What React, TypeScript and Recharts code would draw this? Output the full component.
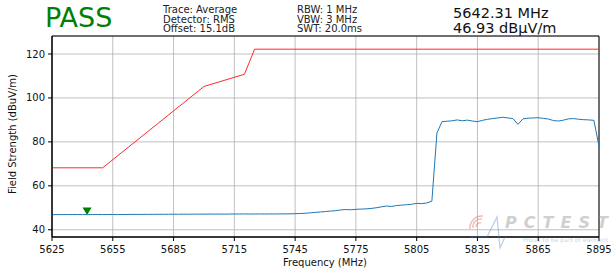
import React from 'react';
import {
  ComposedChart,
  Line,
  Scatter,
  XAxis,
  YAxis,
  CartesianGrid,
  ReferenceArea,
} from 'recharts';

// measured trace, one point every 2.5 MHz from 5625 MHz
const FREQ_START = 5625;
const FREQ_STEP = 2.5;
const TRACE_LEVEL = [
  46.85, 46.9, 46.88, 46.92, 46.9, 46.93, 46.9, 46.88, 46.92, 46.95,
  46.9, 46.93, 46.95, 46.9, 46.97, 46.95, 47.0, 46.98, 47.0, 47.02,
  47.0, 47.05, 47.03, 47.05, 47.08, 47.05, 47.1, 47.08, 47.1, 47.12,
  47.1, 47.15, 47.12, 47.15, 47.1, 47.15, 47.18, 47.15, 47.2, 47.15,
  47.18, 47.2, 47.15, 47.2, 47.18, 47.22, 47.2, 47.25, 47.3,
  47.4, 47.5, 47.7, 47.9, 48.1, 48.3, 48.5, 48.7, 49.0, 49.2,
  49.1, 49.3, 49.4, 49.5, 49.7, 50.0, 50.4, 50.8, 50.6, 51.0,
  51.2, 51.4, 51.6, 52.0, 51.9, 52.2, 53.0,
  84.0, 89.2, 89.4, 89.6, 90.0, 89.6, 89.9, 89.5, 89.2, 89.8,
  90.3, 90.6, 90.9, 91.2, 90.9, 90.6, 88.0, 90.5, 90.8, 90.9,
  91.0, 90.7, 90.4, 89.7, 89.5, 89.9, 90.5, 90.6, 90.3, 90.1,
  90.0, 89.8, 78.0,
];

// limit mask
const LIMIT_FREQ = [5625, 5650, 5700, 5720, 5725, 5895];
const LIMIT_LEVEL = [68.2, 68.2, 105.2, 110.8, 122.2, 122.2];

const MARKER_FREQ = [5642.31];
const MARKER_LEVEL = [46.93];

const X_TICKS = [5625, 5655, 5685, 5715, 5745, 5775, 5805, 5835, 5865, 5895];
const Y_TICKS = [40, 60, 80, 100, 120];
const X_DOMAIN = [5625, 5895];
const Y_DOMAIN = [36.7, 128.2];

const traceData = TRACE_LEVEL.map((level, i) => ({
  freq: FREQ_START + i * FREQ_STEP,
  level,
}));
const limitData = LIMIT_FREQ.map((freq, i) => ({ freq, level: LIMIT_LEVEL[i] }));
const markerData = MARKER_FREQ.map((freq, i) => ({ freq, level: MARKER_LEVEL[i] }));

const FONT = 'DejaVu Sans, Liberation Sans, sans-serif';

const MarkerShape = (props: any) => {
  const { cx, cy } = props;
  if (cx === undefined || cy === undefined) return null;
  const c = cy - 3.5;
  return (
    <path
      d={`M${cx - 4.5},${c - 3.5} L${cx + 4.5},${c - 3.5} L${cx},${c + 4} Z`}
      fill="#008000"
    />
  );
};

export default function App() {
  return (
    <div style={{ position: 'absolute', left: 0, top: 0, width: 611, height: 272, background: '#fff' }}>
      <ComposedChart
        width={611}
        height={272}
        margin={{ top: 36, right: 12, left: 0, bottom: 0 }}
        style={{ fontFamily: FONT }}
      >
        <CartesianGrid stroke="#b0b0b0" strokeWidth={0.8} />
        <XAxis
          dataKey="freq"
          type="number"
          domain={X_DOMAIN}
          ticks={X_TICKS}
          interval={0}
          allowDataOverflow
          height={35}
          stroke="#000"
          tickSize={4}
          tickMargin={5}
          tick={{ fontSize: 10, fill: '#111', fontFamily: FONT }}
        />
        <YAxis
          dataKey="level"
          type="number"
          domain={Y_DOMAIN}
          ticks={Y_TICKS}
          interval={0}
          allowDataOverflow
          width={52}
          stroke="#000"
          tickSize={4}
          tickMargin={3}
          tick={{ fontSize: 10, fill: '#111', fontFamily: FONT }}
        />
        <Line
          data={limitData}
          dataKey="level"
          stroke="#ff2a2a"
          strokeWidth={1}
          dot={false}
          isAnimationActive={false}
        />
        <Line
          data={traceData}
          dataKey="level"
          stroke="#1f77b4"
          strokeWidth={1}
          dot={false}
          isAnimationActive={false}
        />
        <Scatter
          data={markerData}
          dataKey="level"
          shape={<MarkerShape />}
          isAnimationActive={false}
        />
        <ReferenceArea
          x1={X_DOMAIN[0]}
          x2={X_DOMAIN[1]}
          y1={Y_DOMAIN[0]}
          y2={Y_DOMAIN[1]}
          fill="none"
          stroke="#000"
          strokeWidth={1}
        />
      </ComposedChart>
      <svg
        width={611}
        height={272}
        style={{ position: 'absolute', left: 0, top: 0, pointerEvents: 'none', fontFamily: FONT }}
      >
        <text x={45} y={27} fontSize={27} fill="#008000">PASS</text>
        <g fontSize={10} fill="#222">
          <text x={163} y={13}>Trace: Average</text>
          <text x={163} y={22.5}>Detector: RMS</text>
          <text x={163} y={32}>Offset: 15.1dB</text>
          <text x={297} y={13}>RBW: 1 MHz</text>
          <text x={297} y={22.5}>VBW: 3 MHz</text>
          <text x={297} y={32}>SWT: 20.0ms</text>
        </g>
        <g fontSize={14.5} fill="#111">
          <text x={453} y={17.5}>5642.31 MHz</text>
          <text x={453} y={32.5}>46.93 dBµV/m</text>
        </g>
        <text x={325} y={266} fontSize={10} fill="#111" textAnchor="middle">Frequency (MHz)</text>
        <text
          x={16}
          y={134}
          fontSize={10}
          fill="#111"
          textAnchor="middle"
          transform="rotate(-90 16 134)"
        >
          Field Strength (dBuV/m)
        </text>
        <g opacity={0.4}>
          <path
            d="M476,227 a4,4 0 0 1 5,-4 M473,228 a8,8 0 0 1 9,-9 M470,229 a12,12 0 0 1 13,-13"
            stroke="#e05050"
            fill="none"
            strokeWidth={1.4}
          />
          <path
            d="M470,237 L487,237 L497,217 L500,248 L505,237"
            stroke="#4a86d0"
            fill="none"
            strokeWidth={1.2}
          />
          <text
            x={505}
            y={228}
            fontSize={16}
            fontWeight="bold"
            fontStyle="italic"
            fill="#8a8a8a"
            textLength={103}
            lengthAdjust="spacing"
          >
            PCTEST
          </text>
          <text x={523} y={242} fontSize={6} fill="#6f9ad6" textLength={85} lengthAdjust="spacing">
            Proud to be part of element
          </text>
        </g>
      </svg>
    </div>
  );
}
